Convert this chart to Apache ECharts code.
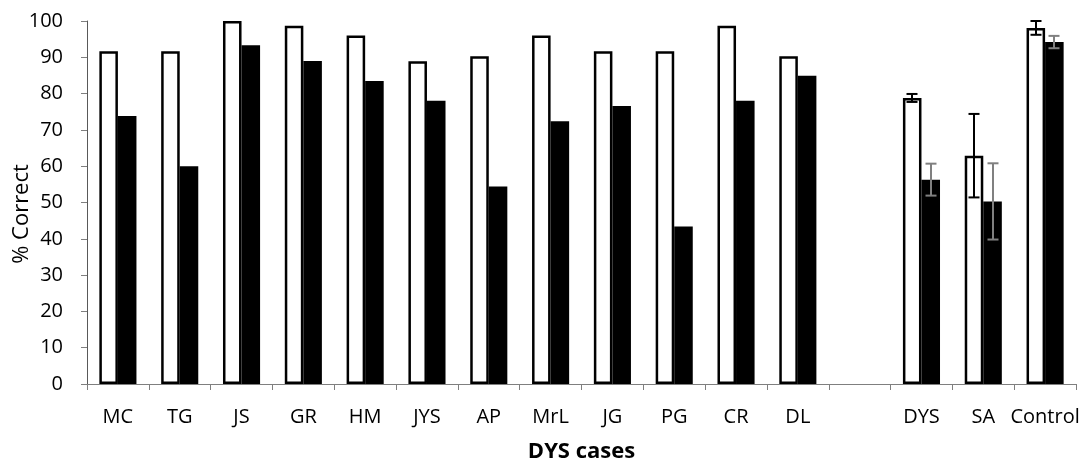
<!DOCTYPE html>
<html>
<head>
<meta charset="utf-8">
<script src="https://cdn.jsdelivr.net/npm/echarts@6/dist/echarts.min.js"></script>
<style>
html,body{margin:0;padding:0;background:#fff;}
#chart{width:1091px;height:462px;}
</style>
</head>
<body>
<div id="chart"></div>
<script>
var categories = ['MC','TG','JS','GR','HM','JYS','AP','MrL','JG','PG','CR','DL','','DYS','SA','Control'];
var whiteValues = [91.7,91.7,100,98.7,96.0,88.9,90.3,96.0,91.7,91.7,98.7,90.3,null,78.8,62.9,98.1];
var blackValues = [73.8,60.0,93.3,89.0,83.5,78.0,54.4,72.4,76.6,43.4,78.0,84.9,null,56.3,50.3,94.2];
var whiteErr = [null,null,null,null,null,null,null,null,null,null,null,null,null,1.1,11.5,1.9];
var blackErr = [null,null,null,null,null,null,null,null,null,null,null,null,null,4.4,10.5,1.7];
var yTicks = [0,10,20,30,40,50,60,70,80,90,100];

var FONT = '"Open Sans", sans-serif';
var BAR_FRAC = 0.30;

function errData(vals, errs) {
  var out = [];
  for (var i = 0; i < vals.length; i++) {
    if (errs[i] != null && vals[i] != null) out.push([i, vals[i] - errs[i], vals[i] + errs[i]]);
  }
  return out;
}

function makeErr(side, color) {
  return function (params, api) {
    var idx = api.value(0);
    var lo = api.coord([idx, api.value(1)]);
    var hi = api.coord([idx, api.value(2)]);
    var band = api.size([1, 0])[0];
    var x = Math.round(lo[0] + side * band * BAR_FRAC / 2);
    var cap = 5.5;
    var style = {stroke: color, lineWidth: 2, fill: null};
    return {
      type: 'group',
      children: [
        {type: 'line', shape: {x1: x, y1: hi[1], x2: x, y2: lo[1]}, style: style},
        {type: 'line', shape: {x1: x - cap, y1: hi[1], x2: x + cap, y2: hi[1]}, style: style},
        {type: 'line', shape: {x1: x - cap, y1: lo[1], x2: x + cap, y2: lo[1]}, style: style}
      ]
    };
  };
}

var chart = echarts.init(document.getElementById('chart'));
chart.setOption({
  animation: false,
  backgroundColor: '#ffffff',
  grid: {left: 87, right: 15, top: 21, bottom: 78, containLabel: false, outerBoundsMode: 'none'},
  xAxis: {
    type: 'category',
    data: categories,
    name: 'DYS cases',
    nameLocation: 'middle',
    nameGap: 57,
    nameTextStyle: {fontFamily: FONT, fontSize: 22, fontWeight: 'bold', color: '#000'},
    axisLine: {lineStyle: {color: '#7f7f7f', width: 1}},
    axisTick: {show: true, interval: 0, alignWithLabel: false, length: 6, lineStyle: {color: '#7f7f7f'}},
    axisLabel: {interval: 0, margin: 23, fontFamily: FONT, fontSize: 20, color: '#000'}
  },
  yAxis: {
    type: 'value',
    min: 0, max: 100, interval: 10,
    splitLine: {show: false},
    axisLine: {show: true, lineStyle: {color: '#595959', width: 1}},
    axisTick: {show: true, length: 6, lineStyle: {color: '#7f7f7f'}},
    axisLabel: {margin: 24, fontFamily: FONT, fontSize: 20, color: '#000',
      formatter: function (v) { return yTicks.indexOf(v) >= 0 ? String(v) : ''; }}
  },
  graphic: [{
    type: 'text',
    x: 22, y: 214,
    rotation: Math.PI / 2,
    style: {text: '% Correct', fontFamily: FONT, fontSize: 22, fill: '#000', align: 'center', verticalAlign: 'middle'}
  }],
  series: [
    {
      type: 'bar',
      data: whiteValues,
      barWidth: (BAR_FRAC * 100) + '%',
      barGap: '0%',
      itemStyle: {color: '#ffffff', borderColor: '#000000', borderWidth: 2.5}
    },
    {
      type: 'bar',
      data: blackValues,
      barWidth: (BAR_FRAC * 100) + '%',
      barGap: '0%',
      itemStyle: {color: '#000000', borderColor: '#000000', borderWidth: 0}
    },
    {
      type: 'custom',
      renderItem: makeErr(-1, '#000000'),
      data: errData(whiteValues, whiteErr),
      encode: {x: 0, y: [1, 2]},
      z: 10
    },
    {
      type: 'custom',
      renderItem: makeErr(1, '#808080'),
      data: errData(blackValues, blackErr),
      encode: {x: 0, y: [1, 2]},
      z: 10
    }
  ]
});
</script>
</body>
</html>
